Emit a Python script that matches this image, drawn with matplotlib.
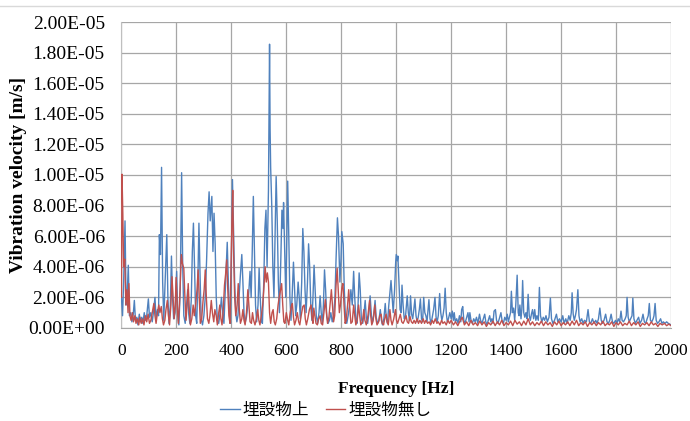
import matplotlib
matplotlib.use("Agg")
import matplotlib.pyplot as plt
from matplotlib.lines import Line2D
from matplotlib.ticker import FormatStrFormatter
import numpy as np

# Spectrum peaks/troughs, velocity in um/s
above_hz = [
    0, 4, 8, 13, 17, 21, 25, 29, 34, 38, 43, 47, 51, 56, 60, 65, 69, 74, 78, 83,
    87, 92, 98, 102, 107, 112, 117, 122, 126, 131, 135, 138, 142, 146, 150, 154, 158, 165, 169, 173,
    178, 182, 186, 190, 195, 201, 205, 209, 214, 219, 223, 227, 232, 236, 241, 245, 249, 254, 258, 262,
    266, 270, 274, 278, 282, 286, 290, 295, 300, 305, 310, 315, 319, 323, 329, 333, 337, 341, 345, 349,
    354, 359, 364, 368, 373, 378, 385, 389, 393, 397, 401, 404, 408, 412, 416, 420, 424, 428, 433, 438,
    442, 446, 450, 455, 460, 464, 468, 472, 476, 480, 484, 488, 492, 497, 501, 505, 509, 513, 518, 522,
    526, 530, 535, 539, 541, 543, 547, 551, 555, 559, 563, 567, 571, 575, 580, 584, 588, 590, 594, 598,
    602, 605, 609, 613, 617, 621, 626, 630, 634, 638, 643, 647, 651, 656, 660, 664, 668, 672, 677, 681,
    685, 689, 693, 697, 701, 705, 709, 714, 719, 723, 727, 731, 735, 739, 743, 747, 752, 757, 762, 767,
    772, 777, 781, 786, 790, 795, 799, 802, 807, 811, 815, 820, 825, 830, 835, 840, 845, 849, 853, 857,
    861, 865, 869, 873, 878, 883, 887, 891, 896, 900, 905, 909, 913, 918, 923, 927, 932, 937, 942, 946,
    950, 955, 960, 964, 968, 973, 977, 981, 985, 989, 994, 998, 1000, 1004, 1006, 1010, 1014, 1018, 1021, 1025,
    1029, 1034, 1040, 1044, 1048, 1052, 1056, 1060, 1064, 1068, 1072, 1076, 1080, 1084, 1088, 1092, 1096, 1100, 1104, 1108,
    1112, 1115, 1119, 1123, 1127, 1132, 1136, 1141, 1145, 1149, 1153, 1158, 1162, 1166, 1170, 1174, 1178, 1182, 1186, 1190,
    1195, 1200, 1204, 1208, 1211, 1215, 1220, 1225, 1230, 1235, 1238, 1242, 1246, 1250, 1255, 1261, 1265, 1268, 1272, 1277,
    1282, 1287, 1292, 1297, 1303, 1307, 1312, 1317, 1322, 1326, 1330, 1335, 1340, 1344, 1348, 1352, 1356, 1361, 1365, 1370,
    1375, 1381, 1385, 1390, 1395, 1400, 1404, 1408, 1412, 1416, 1419, 1423, 1427, 1431, 1435, 1440, 1444, 1447, 1450, 1454,
    1457, 1460, 1464, 1468, 1472, 1476, 1480, 1484, 1488, 1492, 1496, 1500, 1504, 1508, 1512, 1517, 1521, 1525, 1530, 1535,
    1540, 1545, 1550, 1556, 1561, 1565, 1570, 1576, 1583, 1588, 1594, 1600, 1606, 1611, 1617, 1622, 1628, 1633, 1637, 1640,
    1644, 1648, 1652, 1656, 1661, 1665, 1669, 1675, 1680, 1685, 1692, 1698, 1703, 1708, 1714, 1720, 1726, 1731, 1736, 1741,
    1746, 1751, 1756, 1762, 1767, 1772, 1777, 1782, 1787, 1792, 1798, 1803, 1808, 1813, 1818, 1822, 1827, 1833, 1837, 1840,
    1844, 1848, 1853, 1858, 1861, 1865, 1870, 1876, 1882, 1887, 1893, 1898, 1903, 1908, 1913, 1917, 1921, 1925, 1930, 1935,
    1938, 1942, 1946, 1951, 1956, 1962, 1967, 1972, 1978, 1984, 1990, 1995, 2000,
]
above_um_s = [
    2.0, 0.8, 3.0, 7.0, 1.5, 2.2, 4.1, 0.8, 1.0, 0.4, 0.9, 1.8, 0.5, 0.7, 0.2, 0.9, 0.4, 0.7, 0.3, 1.0,
    0.5, 0.8, 1.9, 0.7, 1.0, 0.4, 1.1, 2.0, 0.6, 1.2, 0.8, 6.1, 4.8, 10.5, 3.0, 0.5, 2.5, 6.1, 2.0, 0.3,
    1.5, 4.7, 2.0, 0.6, 1.0, 3.7, 0.8, 0.2, 2.5, 10.15, 4.0, 0.8, 0.3, 1.2, 2.5, 0.9, 0.3, 1.8, 5.0, 6.85,
    4.0, 0.8, 0.3, 3.0, 6.85, 3.5, 0.6, 0.2, 0.8, 2.0, 4.5, 7.5, 8.9, 7.0, 8.6, 5.0, 7.5, 5.5, 2.0, 0.5,
    0.3, 1.0, 2.0, 1.0, 0.3, 2.5, 5.6, 3.0, 1.0, 0.3, 6.0, 9.7, 6.5, 3.0, 1.0, 0.4, 0.8, 2.0, 3.5, 4.8,
    3.0, 1.0, 0.3, 0.7, 1.5, 2.5, 3.7, 2.0, 5.0, 8.6, 5.0, 1.5, 0.4, 1.5, 3.9, 2.0, 0.5, 0.3, 3.0, 6.5,
    7.7, 4.0, 9.0, 18.55, 13.0, 10.5, 8.0, 4.0, 2.0, 6.0, 9.9, 7.0, 3.0, 1.0, 4.5, 7.7, 6.5, 8.2, 5.0, 2.0,
    6.0, 9.6, 6.0, 2.0, 0.5, 2.0, 4.3, 2.5, 0.8, 1.5, 3.0, 2.0, 0.6, 3.0, 6.5, 5.0, 2.5, 1.0, 3.0, 5.5,
    4.0, 1.5, 0.5, 2.0, 4.1, 2.5, 0.8, 0.3, 1.0, 2.1, 1.0, 0.3, 1.5, 3.8, 2.5, 0.8, 0.3, 0.5, 1.0, 0.4,
    0.8, 2.0, 4.5, 7.2, 6.0, 3.0, 4.5, 6.3, 5.5, 2.5, 0.8, 0.3, 0.8, 1.5, 2.5, 1.5, 3.7, 2.0, 0.6, 0.3,
    1.5, 3.6, 2.5, 0.6, 0.3, 1.0, 1.8, 0.7, 0.3, 0.9, 2.1, 1.0, 0.3, 0.8, 1.8, 0.7, 0.3, 0.5, 1.2, 0.5,
    0.2, 0.6, 1.6, 0.6, 0.3, 1.5, 2.3, 3.1, 2.0, 1.0, 2.5, 4.3, 4.8, 4.4, 4.7, 3.0, 1.2, 1.0, 2.8, 1.5,
    0.6, 0.8, 2.1, 1.0, 0.5, 2.1, 0.9, 0.6, 1.2, 1.9, 0.8, 0.4, 0.7, 1.2, 1.9, 0.6, 0.4, 2.0, 1.0, 0.8,
    0.4, 1.0, 1.85, 0.6, 0.3, 0.8, 1.2, 2.0, 0.7, 0.4, 0.8, 2.25, 1.0, 0.5, 0.8, 1.3, 2.6, 1.0, 0.4, 0.6,
    1.0, 0.6, 1.1, 0.5, 1.0, 0.4, 0.6, 0.3, 0.8, 0.4, 1.2, 1.4, 0.5, 0.3, 0.6, 1.0, 0.4, 1.0, 0.5, 0.3,
    0.6, 0.4, 0.7, 0.3, 0.9, 0.5, 0.3, 0.6, 0.9, 0.4, 0.2, 0.5, 0.8, 0.4, 0.6, 0.3, 1.1, 1.2, 0.5, 0.3,
    0.6, 1.0, 0.5, 0.3, 0.7, 0.5, 0.9, 0.4, 0.7, 1.0, 2.4, 1.0, 1.3, 0.5, 1.5, 3.45, 1.0, 0.8, 1.5, 0.6,
    1.2, 3.1, 1.0, 0.7, 1.0, 0.6, 2.2, 0.8, 0.5, 0.9, 1.2, 0.6, 1.2, 0.5, 0.8, 0.5, 2.65, 0.8, 0.4, 0.7,
    0.5, 0.8, 0.4, 0.7, 1.95, 0.6, 0.3, 0.5, 0.9, 0.4, 0.6, 0.4, 0.8, 0.3, 0.6, 0.3, 0.8, 0.5, 1.0, 2.3,
    0.9, 0.5, 0.8, 1.2, 2.5, 0.8, 0.4, 0.6, 0.3, 0.5, 0.4, 1.2, 0.4, 0.3, 0.6, 0.3, 0.5, 0.3, 0.6, 1.3,
    0.5, 0.3, 0.5, 0.9, 0.4, 0.3, 0.5, 0.9, 0.4, 0.3, 0.5, 0.3, 0.6, 0.4, 1.1, 0.5, 0.4, 0.6, 0.8, 2.0,
    0.7, 0.4, 0.6, 0.8, 1.95, 0.6, 0.3, 0.5, 0.7, 0.3, 0.5, 0.9, 0.4, 0.3, 0.6, 0.8, 1.6, 0.5, 0.4, 0.6,
    0.8, 1.6, 0.5, 0.3, 0.4, 0.6, 0.3, 0.4, 0.3, 0.4, 0.3, 0.25, 0.2,
]

none_hz = [
    0, 2, 5, 8, 12, 16, 20, 24, 27, 31, 35, 40, 44, 49, 53, 58, 63, 67, 72, 77,
    82, 87, 92, 97, 102, 107, 112, 118, 122, 126, 131, 136, 140, 145, 149, 153, 158, 162, 167, 171,
    175, 180, 184, 188, 192, 196, 199, 203, 207, 211, 215, 218, 222, 227, 231, 235, 239, 243, 247, 251,
    256, 261, 265, 270, 275, 279, 283, 287, 292, 297, 301, 305, 309, 313, 318, 322, 327, 331, 336, 340,
    345, 349, 354, 358, 362, 366, 370, 375, 379, 383, 387, 391, 395, 399, 402, 405, 408, 412, 416, 421,
    425, 429, 433, 438, 442, 446, 450, 455, 460, 464, 468, 473, 477, 481, 486, 491, 496, 500, 504, 509,
    514, 518, 523, 527, 531, 535, 539, 543, 548, 552, 556, 560, 565, 570, 574, 579, 583, 587, 591, 595,
    600, 605, 609, 614, 618, 622, 626, 630, 635, 640, 645, 649, 654, 660, 665, 669, 673, 678, 684, 690,
    694, 697, 700, 704, 708, 713, 718, 723, 727, 732, 737, 742, 746, 750, 755, 759, 764, 768, 772, 776,
    781, 785, 789, 793, 797, 802, 806, 810, 814, 818, 823, 827, 831, 835, 840, 845, 849, 853, 858, 863,
    867, 871, 877, 882, 886, 891, 897, 903, 907, 911, 916, 922, 926, 930, 936, 940, 945, 949, 954, 958,
    963, 967, 971, 977, 981, 985, 991, 997, 1001, 1005, 1010, 1015, 1020, 1025, 1030, 1036, 1040, 1045, 1050, 1055,
    1060, 1065, 1070, 1076, 1081, 1086, 1092, 1098, 1103, 1108, 1114, 1120, 1125, 1131, 1136, 1142, 1148, 1153, 1159, 1165,
    1170, 1176, 1182, 1188, 1194, 1200, 1208, 1216, 1224, 1232, 1240, 1248, 1256, 1264, 1272, 1280, 1288, 1296, 1304, 1312,
    1320, 1328, 1336, 1344, 1352, 1360, 1368, 1376, 1384, 1392, 1400, 1408, 1416, 1424, 1432, 1440, 1448, 1456, 1464, 1472,
    1480, 1488, 1496, 1504, 1512, 1520, 1528, 1536, 1544, 1552, 1560, 1568, 1576, 1584, 1592, 1600, 1608, 1616, 1624, 1632,
    1640, 1648, 1656, 1664, 1672, 1680, 1688, 1696, 1704, 1712, 1720, 1728, 1736, 1744, 1752, 1760, 1768, 1776, 1784, 1792,
    1800, 1808, 1816, 1824, 1832, 1840, 1848, 1856, 1864, 1872, 1880, 1888, 1896, 1904, 1912, 1920, 1928, 1936, 1944, 1952,
    1960, 1968, 1976, 1984, 1992, 2000,
]
none_um_s = [
    2.0, 10.05, 7.5, 4.0, 4.5, 1.5, 2.5, 1.0, 2.9, 0.8, 0.5, 1.0, 0.4, 0.8, 0.3, 0.6, 0.2, 0.7, 0.3, 0.6,
    0.2, 0.8, 0.4, 0.9, 0.3, 0.5, 1.0, 1.6, 0.8, 0.3, 1.0, 1.5, 1.0, 1.4, 0.6, 0.2, 0.5, 1.2, 1.8, 0.8,
    0.2, 1.5, 3.35, 2.0, 0.6, 1.5, 3.3, 1.5, 0.3, 1.5, 3.5, 4.8, 4.2, 3.9, 2.0, 0.5, 1.5, 2.9, 1.2, 0.2,
    0.6, 1.5, 0.8, 1.5, 2.5, 3.8, 2.0, 0.3, 0.6, 1.8, 2.5, 3.8, 2.0, 0.6, 0.3, 0.8, 1.8, 1.0, 0.4, 1.2,
    0.8, 0.2, 1.0, 1.5, 0.6, 0.2, 1.0, 2.8, 3.5, 4.45, 2.5, 0.8, 0.3, 4.0, 7.0, 9.0, 5.0, 2.0, 0.8, 1.5,
    2.9, 1.2, 0.3, 0.6, 1.2, 0.5, 0.2, 1.0, 2.5, 1.5, 0.4, 0.3, 1.0, 0.5, 0.2, 0.6, 1.2, 0.5, 0.2, 0.8,
    1.5, 2.5, 4.0, 3.0, 3.6, 3.0, 1.0, 0.3, 1.0, 1.2, 0.4, 0.2, 0.6, 1.5, 2.0, 2.5, 2.9, 1.5, 0.4, 0.3,
    1.0, 0.5, 0.2, 1.0, 1.4, 1.6, 0.7, 0.2, 0.5, 1.0, 0.4, 0.2, 0.8, 1.4, 1.5, 0.6, 0.2, 0.6, 1.2, 1.5,
    0.6, 0.3, 1.3, 0.8, 0.3, 0.2, 0.6, 0.8, 0.3, 0.2, 1.0, 1.85, 1.0, 0.3, 0.7, 1.5, 2.5, 1.5, 0.4, 0.8,
    2.8, 3.9, 2.5, 1.0, 1.5, 2.6, 2.9, 1.5, 0.3, 0.5, 1.5, 2.5, 1.3, 0.3, 0.4, 1.5, 0.8, 0.2, 0.5, 1.5,
    0.8, 0.2, 0.4, 1.2, 0.5, 0.2, 0.8, 1.8, 0.8, 0.2, 0.5, 1.5, 0.6, 0.2, 0.4, 0.8, 0.9, 0.3, 0.2, 0.6,
    0.9, 0.4, 0.2, 1.2, 0.5, 0.2, 0.6, 1.2, 0.5, 0.3, 0.6, 0.9, 0.4, 0.3, 0.5, 0.8, 0.4, 0.3, 0.75, 0.4,
    0.3, 0.5, 0.3, 0.6, 0.3, 0.5, 0.3, 0.6, 0.3, 0.5, 0.3, 0.4, 0.2, 0.5, 0.3, 0.6, 0.3, 0.4, 0.2, 0.5,
    0.3, 0.4, 0.2, 0.5, 0.3, 0.5, 0.2, 0.4, 0.15, 0.45, 0.7, 0.2, 0.4, 0.15, 0.5, 0.2, 0.35, 0.15, 0.45, 0.2,
    0.4, 0.1, 0.35, 0.2, 0.45, 0.15, 0.4, 0.2, 0.5, 0.15, 0.35, 0.2, 0.45, 0.15, 0.5, 0.25, 0.4, 0.15, 0.45, 0.2,
    0.6, 0.2, 0.4, 0.15, 0.35, 0.2, 0.45, 0.15, 0.4, 0.2, 0.35, 0.1, 0.4, 0.2, 0.45, 0.15, 0.35, 0.2, 0.4, 0.15,
    0.45, 0.2, 0.5, 0.15, 0.35, 0.2, 0.4, 0.1, 0.35, 0.2, 0.4, 0.15, 0.35, 0.2, 0.45, 0.15, 0.3, 0.2, 0.4, 0.1,
    0.35, 0.2, 0.4, 0.15, 0.3, 0.2, 0.45, 0.15, 0.35, 0.2, 0.4, 0.1, 0.3, 0.2, 0.35, 0.15, 0.4, 0.2, 0.3, 0.1,
    0.3, 0.2, 0.3, 0.15, 0.25, 0.15,
]

series_names = ["埋設物上", "埋設物無し"]
series_colors = ["#4F81BD", "#C0504D"]
x_ticks = list(range(0, 2001, 200))
y_ticks = [i * 2e-6 for i in range(11)]

serif = ["Liberation Serif", "DejaVu Serif"]
jp = ["Noto Sans CJK JP", "DejaVu Sans"]

fig = plt.figure(figsize=(6.9, 4.21), dpi=100)
ax = fig.add_axes([0.176, 0.221, 0.7965, 0.7267])

ax.plot(above_hz, np.array(above_um_s) * 1e-6, color=series_colors[0], lw=1.0,
        label=series_names[0], zorder=3)
ax.plot(none_hz, np.array(none_um_s) * 1e-6, color=series_colors[1], lw=1.0,
        label=series_names[1], zorder=4)

ax.set_xlim(0, 2000)
ax.set_ylim(0, 2e-5)
ax.set_xticks(x_ticks)
ax.set_yticks(y_ticks)
ax.yaxis.set_major_formatter(FormatStrFormatter("%.2E"))
ax.grid(True, color="#a6a6a6", lw=0.9, zorder=0)
ax.set_axisbelow(True)
for side in ["top", "right"]:
    ax.spines[side].set_visible(False)
ax.spines["left"].set_color("#bfbfbf")
ax.spines["bottom"].set_color("#a6a6a6")
ax.tick_params(axis="x", length=0, pad=11)
ax.tick_params(axis="y", length=0, pad=12)
for lbl in ax.get_xticklabels():
    lbl.set_fontfamily(serif)
    lbl.set_fontsize(12.5)
for lbl in ax.get_yticklabels():
    lbl.set_fontfamily(serif)
    lbl.set_fontsize(14)

ax.set_xlabel("Frequency [Hz]", fontfamily=serif, fontsize=12.5, fontweight="bold")
ax.set_ylabel("Vibration velocity [m/s]", fontfamily=serif, fontsize=14, fontweight="bold")
ax.xaxis.set_label_coords(0.5, -0.172)
ax.yaxis.set_label_coords(-0.172, 0.5)

fig.legend(loc="center", bbox_to_anchor=(326 / 690, 1 - 410 / 421), ncol=2, frameon=False,
           prop={"family": jp, "size": 12}, handlelength=1.15, handletextpad=0.2,
           columnspacing=1.0)

# thin frame line along the top of the chart area
fig.add_artist(Line2D([0, 1], [1 - 6 / 421, 1 - 6 / 421], transform=fig.transFigure,
                      color="#d9d9d9", lw=1.0))

fig.savefig("out.png", dpi=100)
